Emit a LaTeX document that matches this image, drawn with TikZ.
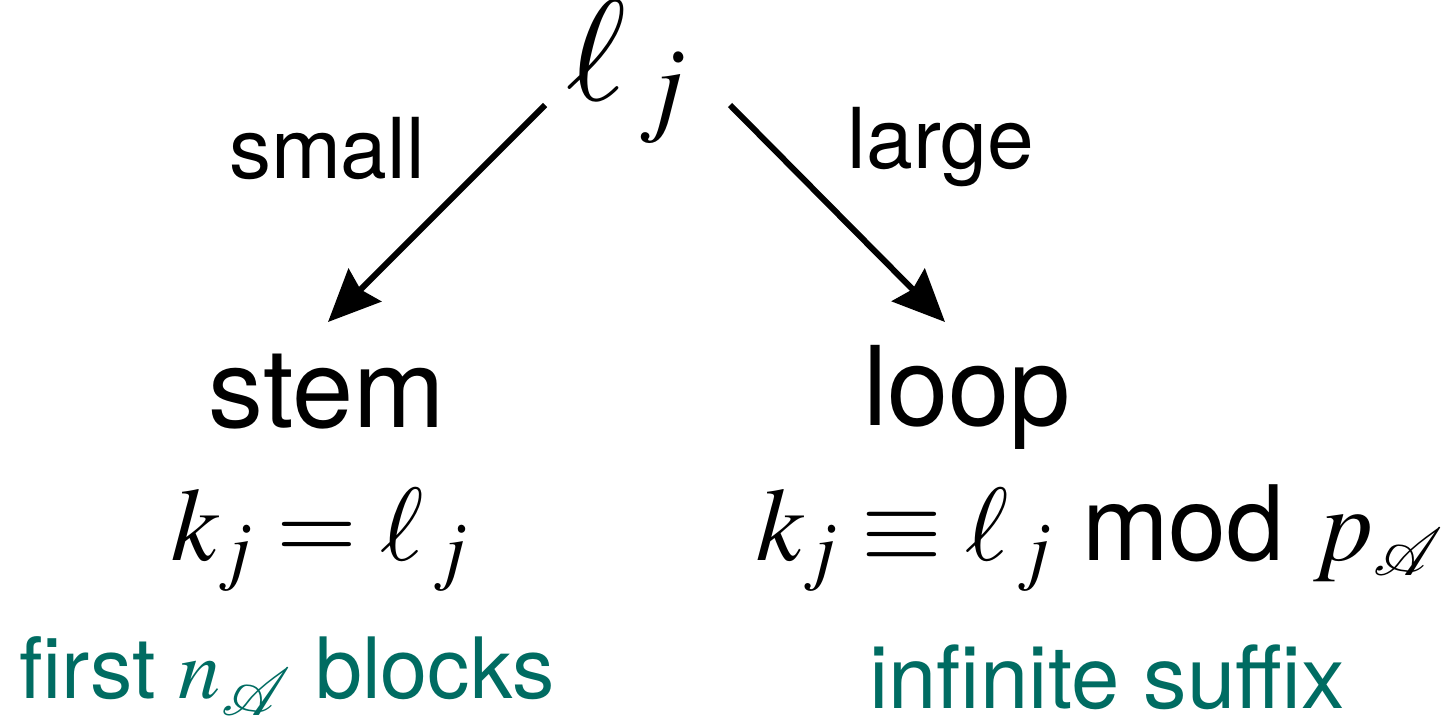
\documentclass[tikz,border=0pt]{standalone}
\usepackage{mathptmx}
\usepackage{mathrsfs}
\usepackage[no-math]{fontspec}
\setmainfont{TeX Gyre Heros}
\usetikzlibrary{arrows.meta}
\definecolor{tealtxt}{RGB}{0,108,98}
\newcommand{\scrA}{\scalebox{1.35}{$\scriptstyle\mathscr{A}$}}
\tikzset{
  lbl/.style={anchor=base, inner sep=0pt, font=\fontsize{42}{50}\selectfont},
  big/.style={anchor=base, inner sep=0pt, font=\fontsize{55}{66}\selectfont},
  eq/.style={anchor=base, inner sep=0pt, font=\fontsize{52}{62}\selectfont},
  note/.style={anchor=base, inner sep=0pt, text=tealtxt, font=\fontsize{43.5}{52}\selectfont},
  arr/.style={line width=3pt, -{Stealth[length=26pt,width=23pt,inset=3pt]}}
}
\begin{document}
\begin{tikzpicture}[x=0.5pt,y=-0.5pt]
\useasboundingbox (0,0) rectangle (1454,718);
\node[anchor=base, inner sep=0pt, font=\fontsize{72}{84}\selectfont] (lj) at (627,100) {$\ell_{\,j}$};
\node[lbl] (small) at (327,178) {small};
\node[lbl] (large) at (941,168) {large};
\coordinate (ls) at (545,105);
\coordinate (le) at (328,322);
\coordinate (rs) at (730,105);
\coordinate (re) at (945,322);
\draw[arr] (ls) -- (le);
\draw[arr] (rs) -- (re);
\node[big] (stem) at (327,427) {stem};
\node[big] (loop) at (967,425) {loop};
\node[eq] (eqL) at (320,560) {$k_j=\ell_{\,j}$};
\node[eq] (eqR) at (1100,560) {$k_j\equiv\ell_{\,j}$ mod $p_{\scrA}$};
\node[note, font=\fontsize{42.3}{50}\selectfont] (first) at (287,698) {first $n_{\scrA}$ blocks};
\node[note] (suffix) at (1107,708) {infinite suffix};
\end{tikzpicture}
\end{document}
